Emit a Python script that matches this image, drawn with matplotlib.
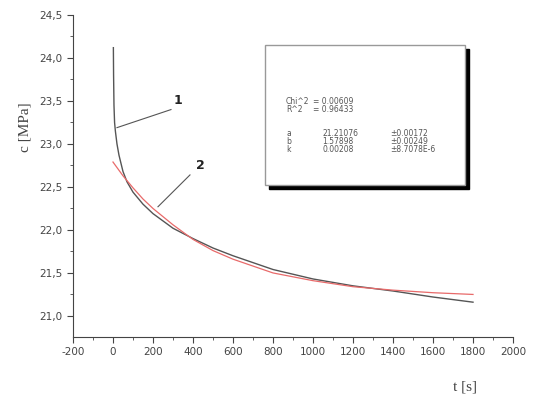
import numpy as np
import matplotlib
matplotlib.use("Agg")
import matplotlib.pyplot as plt
from matplotlib.patches import Rectangle
from matplotlib.ticker import MultipleLocator, FuncFormatter

plt.rcParams["axes.unicode_minus"] = False

t_meas = [2, 3, 5, 8, 12, 20, 30, 50, 70, 100, 150, 200, 300, 400, 500,
          600, 800, 1000, 1200, 1400, 1600, 1800]
c_meas = [24.12, 23.8, 23.45, 23.25, 23.15, 23.0, 22.87, 22.68, 22.56, 22.44,
          22.30, 22.19, 22.02, 21.90, 21.79, 21.70, 21.54, 21.43, 21.35,
          21.29, 21.22, 21.16]

# fitted curve (2)
t_fit = [0, 25, 50, 75, 100, 150, 200, 300, 400, 500, 600, 800, 1000,
         1200, 1400, 1600, 1800]
c_fit = [22.79, 22.71, 22.63, 22.56, 22.49, 22.36, 22.25, 22.06, 21.89,
         21.76, 21.66, 21.50, 21.41, 21.34, 21.30, 21.27, 21.25]

# fit results shown in the box
stats = [("Chi^2", "= 0.00609"), ("R^2", "= 0.96433")]
params = [("a", "21.21076", "±0.00172"),
          ("b", "1.57898", "±0.00249"),
          ("k", "0.00208", "±8.7078E-6")]

fig = plt.figure(figsize=(5.35, 4), dpi=100)
ax = fig.add_axes([0.1364, 0.1575, 0.8225, 0.805])

ax.plot(t_meas, c_meas, color="#555555", lw=1.0)
ax.plot(t_fit, c_fit, color="#e86a6a", lw=0.9)

ax.set_xlim(-200, 2000)
ax.set_ylim(20.755, 24.5)
ax.xaxis.set_major_locator(MultipleLocator(200))
ax.xaxis.set_minor_locator(MultipleLocator(100))
ax.yaxis.set_major_locator(MultipleLocator(0.5))
ax.yaxis.set_minor_locator(MultipleLocator(0.25))
ax.yaxis.set_major_formatter(FuncFormatter(lambda v, p: f"{v:.1f}".replace(".", ",")))
ax.spines["top"].set_visible(False)
ax.spines["right"].set_visible(False)
for s in ("left", "bottom"):
    ax.spines[s].set_color("#444444")
ax.tick_params(which="major", direction="out", length=4, color="#444444",
               labelsize=7.5, labelcolor="#444444")
ax.tick_params(which="minor", direction="out", length=2, color="#444444")

fig.text(0.047, 0.6825, "c [MPa]", rotation=90, ha="center", va="center",
         family="Liberation Serif", fontsize=11, color="#444444")
fig.text(0.869, 0.032, "t [s]", ha="center", va="center",
         family="Liberation Serif", fontsize=11, color="#444444")

# curve labels with leader lines
ax.plot([20, 290], [23.19, 23.40], color="#555555", lw=0.8)
ax.text(325, 23.50, "1", fontsize=9, fontweight="bold", color="#222222",
        ha="center", va="center")
ax.plot([225, 385], [22.27, 22.64], color="#555555", lw=0.8)
ax.text(435, 22.75, "2", fontsize=9, fontweight="bold", color="#222222",
        ha="center", va="center")

# results box with shadow
x0, y0, w, h = 0.4953, 0.5375, 0.3739, 0.35
fig.patches.append(Rectangle((x0 + 0.007, y0 - 0.01), w, h, transform=fig.transFigure,
                             facecolor="black", edgecolor="black", zorder=3))
fig.patches.append(Rectangle((x0, y0), w, h, transform=fig.transFigure,
                             facecolor="white", edgecolor="#999999", lw=1.0, zorder=4))

col1, col2, col3 = 0.5346, 0.6019, 0.729
ys = [0.7475, 0.725]
for (name, val), y in zip(stats, ys):
    fig.text(col1, y, name, fontsize=5.5, color="#555555", va="center", zorder=5)
    fig.text(0.585, y, val, fontsize=5.5, color="#555555", va="center", zorder=5)
ys = [0.6675, 0.6475, 0.6275]
for (name, val, err), y in zip(params, ys):
    fig.text(col1, y, name, fontsize=5.5, color="#555555", va="center", zorder=5)
    fig.text(col2, y, val, fontsize=5.5, color="#555555", va="center", zorder=5)
    fig.text(col3, y, err, fontsize=5.5, color="#555555", va="center", zorder=5)

fig.savefig("out.png", dpi=100)
